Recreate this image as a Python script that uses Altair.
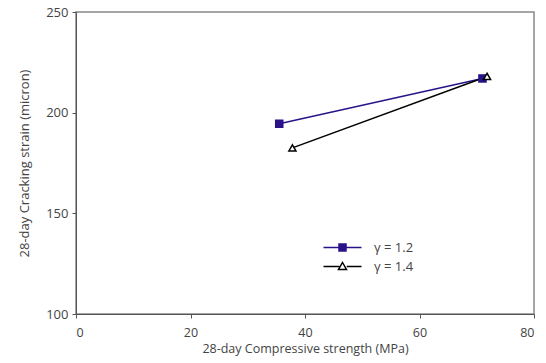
import altair as alt
import pandas as pd

series_names = ["γ = 1.2", "γ = 1.4"]
strength_12 = [35.5, 71.0]
strain_12 = [194.5, 217.0]
strength_14 = [37.8, 71.8]
strain_14 = [182.5, 218.0]

df = pd.DataFrame({
    "x": strength_12 + strength_14,
    "y": strain_12 + strain_14,
    "series": [series_names[0]] * 2 + [series_names[1]] * 2,
})

colors = ["#2A1388", "#000000"]
fills = ["#2A1388", "#FFFFFF"]
FONT = "Open Sans"
TXT = "#444444"

xs = alt.X("x:Q", scale=alt.Scale(domain=[0, 80]),
           axis=alt.Axis(values=[0, 20, 40, 60, 80], title="28-day Compressive strength (MPa)",
                         grid=False, tickSize=4, labelPadding=8, titlePadding=4,
                         titleFontSize=12.5, labelFontSize=12.5,
                         domainColor="#555555", tickColor="#555555"))
ys = alt.Y("y:Q", scale=alt.Scale(domain=[100, 250]),
           axis=alt.Axis(values=[100, 150, 200, 250], title="28-day Cracking strain (micron)",
                         grid=False, tickSize=4, labelPadding=4, titlePadding=14,
                         domainColor="#555555", tickColor="#555555"))

color_enc = alt.Color("series:N", scale=alt.Scale(domain=series_names, range=colors), legend=None)
fill_enc = alt.Fill("series:N", scale=alt.Scale(domain=series_names, range=fills), legend=None)

base = alt.Chart(df)

lines = base.mark_line(strokeWidth=1.5).encode(x=xs, y=ys, color=color_enc, detail="series:N")
points = base.mark_point(size=50, strokeWidth=1.5, opacity=1, filled=False).encode(
    x=xs, y=ys, color=color_enc, fill=fill_enc,
    shape=alt.Shape("series:N", scale=alt.Scale(domain=series_names, range=["square", "triangle-up"]), legend=None),
)

sq_path = "M-3.8,0H-0.7 M0.7,0H3.8 M-0.7,-0.7H0.7V0.7H-0.7Z"
tri_path = "M-3.8,0H-0.65 M0.85,0H3.8 M0,-0.8L0.8,0.6H-0.8Z"

leg = alt.Legend(title=None, orient="none", legendX=260, legendY=229, labelFont=FONT,
                 labelFontSize=13, labelColor=TXT, symbolSize=100, symbolStrokeWidth=1.5,
                 rowPadding=4, labelOffset=25)

legend_layer = base.transform_filter("datum.x < 0").mark_point(size=100, strokeWidth=1.5, opacity=1).encode(
    x=xs, y=ys,
    color=alt.Color("series:N", scale=alt.Scale(domain=series_names, range=colors), legend=leg),
    fill=alt.Fill("series:N", scale=alt.Scale(domain=series_names, range=fills), legend=leg),
    shape=alt.Shape("series:N", scale=alt.Scale(domain=series_names, range=[sq_path, tri_path]), legend=leg),
)

main = alt.layer(lines, points)

chart = alt.layer(main, legend_layer).resolve_scale(
    shape="independent", color="independent", fill="independent"
).resolve_legend(shape="independent", color="independent", fill="independent").properties(
    width=458, height=302,
    autosize=alt.AutoSizeParams(type="none"),
    padding={"left": 76, "top": 12, "right": 12, "bottom": 49},
    background="white",
).configure_view(stroke="#888888", strokeWidth=1.5).configure_axis(
    labelFont=FONT, titleFont=FONT, labelFontSize=13, titleFontSize=13,
    labelColor=TXT, titleColor=TXT, titleFontWeight="normal",
)

chart.save("out.html", embed_options={"renderer": "svg", "actions": False})
